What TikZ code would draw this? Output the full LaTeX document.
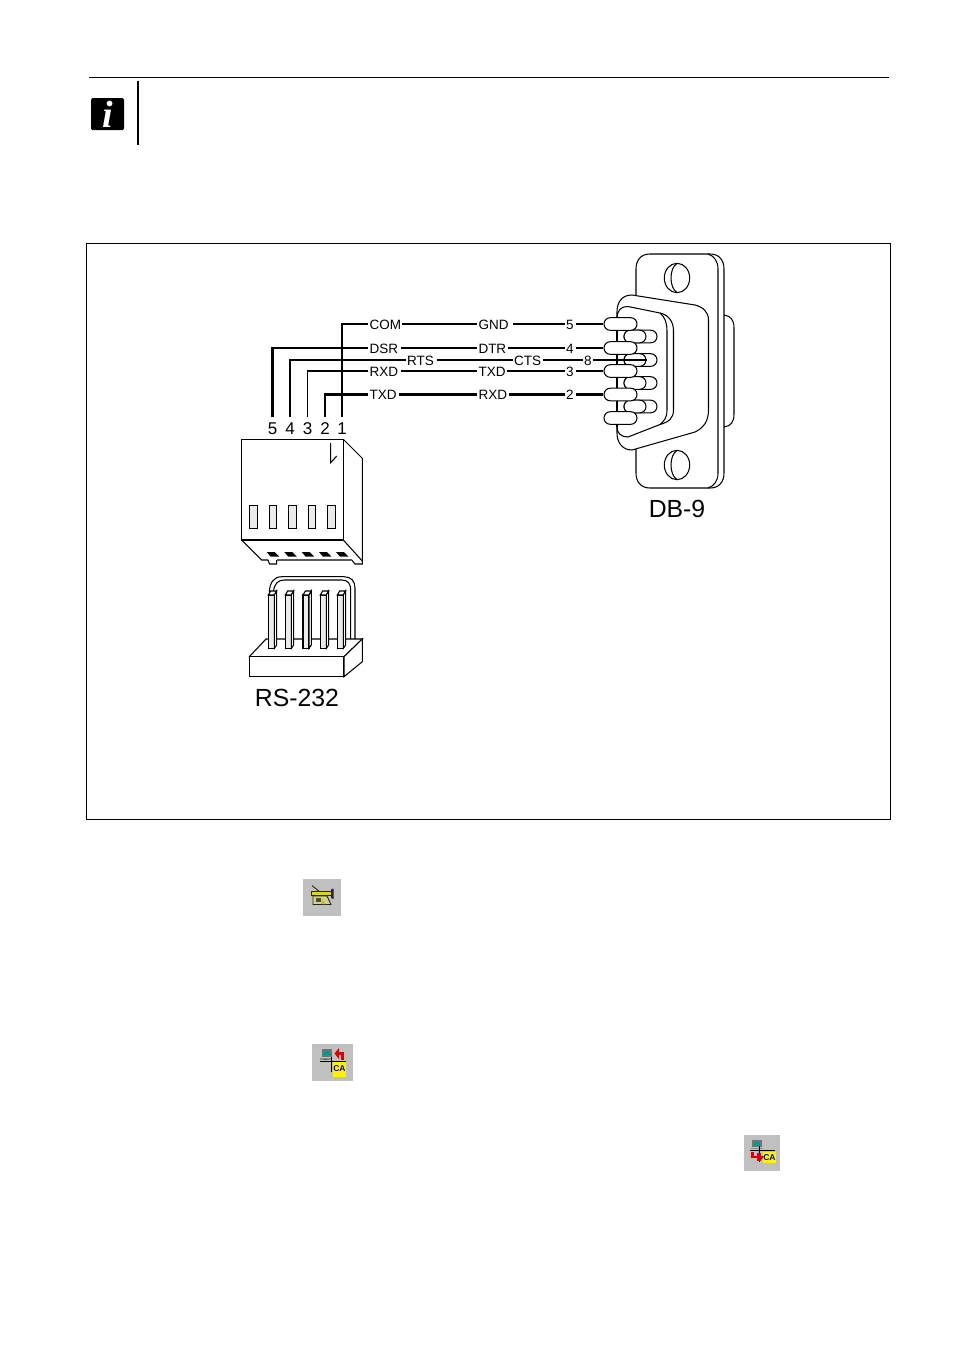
\documentclass[tikz,border=0pt]{standalone}
\usepackage{fontspec}
\setmainfont{Liberation Sans}
\newfontfamily\serifi{Liberation Serif}
\usetikzlibrary{shapes.misc}
\definecolor{icongray}{HTML}{C0C0C0}
\definecolor{pinfill}{HTML}{EBEBEB}
\tikzset{
  wire/.style={line width=1.5pt,black},
  heavywire/.style={line width=2.1pt,black},
  lab/.style={font=\fontsize{13.5}{16}\selectfont,anchor=west,inner xsep=0pt,inner ysep=0pt,outer xsep=1.5pt,text height=10.2pt,text depth=0pt},
  pinno/.style={font=\fontsize{17}{20}\selectfont,inner xsep=0pt,inner ysep=5pt,text height=12pt,text depth=0pt},
  bigname/.style={font=\fontsize{24.8}{28}\selectfont,inner sep=0pt},
  outline/.style={line width=1.05pt,black},
  pill/.style={draw=black,line width=1.05pt,fill=white,rounded rectangle,inner sep=0pt,minimum height=12.6pt},
  frontpin/.style={pill,minimum width=33pt},
  backpin/.style={pill,minimum width=33pt},
  innerpin/.style={pill,minimum width=22pt},
  slot/.style={draw=black,line width=1.05pt,fill=pinfill},
  icon/.style={fill=icongray,draw=none},
  calabel/.style={inner sep=0pt,text=blue!80!black,font=\bfseries\fontsize{8.5}{9}\selectfont},
}
\begin{document}
\begin{tikzpicture}[x=1pt,y=-1pt]
\useasboundingbox (0,0) rectangle (955,1350);
\fill[white] (0,0) rectangle (955,1350);
% page furniture
\draw[line width=1pt] (89,77.5) -- (889,77.5);
\draw[line width=2pt] (138,81) -- (138,145);
\node[fill=black,rounded corners=1.5pt,minimum width=33pt,minimum height=32pt,inner sep=0pt,text=white,font=\serifi\bfseries\itshape\fontsize{38}{38}\selectfont] (info) at (107.5,114) {i};
\draw[line width=1pt] (86.5,243.5) rectangle (890.5,819.5);
% ---------- DB-9 ----------
\begin{scope}[outline]
  % back shell
  \draw (724,315) .. controls (731,316) and (734,320) .. (734,328) -- (734,414) .. controls (734,422) and (731,426) .. (724,427);
  % flange
  \draw[fill=white] (650,254) -- (710,254) .. controls (719,254) and (724,260) .. (724,269) -- (724,473) .. controls (724,482) and (719,488) .. (710,488) -- (650,488) .. controls (641,488) and (636,482) .. (636,473) -- (636,269) .. controls (636,260) and (641,254) .. (650,254) -- cycle;
  \draw (708,254) .. controls (714,256) and (718,261) .. (718,269) -- (718,473) .. controls (718,481) and (714,486) .. (708,488);
  % screw holes
  \draw (677,278) ellipse [x radius=12.7,y radius=14.7];
  \draw (677,263.5) .. controls (669,268) and (669,288) .. (677,292.5);
  \draw (677,465) ellipse [x radius=12.7,y radius=14.7];
  \draw (677,450.5) .. controls (669,455) and (669,475) .. (677,479.5);
  % D shell
  \draw[fill=white] (617,312) .. controls (617,302) and (622,295) .. (632,295) -- (695,305) .. controls (703,307) and (708.5,312) .. (708.5,320) -- (708.5,410) .. controls (708.5,422) and (703,428) .. (695,432) -- (632,450) .. controls (622,450) and (617,442) .. (617,433) -- cycle;
  \draw (617,318) .. controls (617,311) and (621,306) .. (628,306.5) -- (660,313) .. controls (669,315) and (673.5,322) .. (673.5,331) -- (673.5,410) .. controls (673.5,418) and (669,422) .. (660,424.5) -- (628,437) .. controls (621,437) and (617,433) .. (617,427);
  \draw (660,313) .. controls (664,316) and (667,322) .. (667,331) -- (667,410) .. controls (667,418) and (664,421) .. (660,424.5);
  \draw (617,318) -- (617,427);
\end{scope}
% back row pins
\node[backpin] (b1) at (640.5,336.5) {};
\node[innerpin] (bi1) at (635,336.5) {};
\node[backpin] (b2) at (640.5,360) {};
\node[innerpin] (bi2) at (635,360) {};
\node[backpin] (b3) at (640.5,383) {};
\node[innerpin] (bi3) at (635,383) {};
\node[backpin] (b4) at (640.5,406.5) {};
\node[innerpin] (bi4) at (635,406.5) {};
% front row pins
\node[frontpin] (f1) at (620.5,324) {};
\node[frontpin] (f2) at (620.5,348) {};
\node[frontpin] (f3) at (620.5,371) {};
\node[frontpin] (f4) at (620.5,394.5) {};
\node[frontpin] (f5) at (620.5,418) {};
\node[bigname] (dbname) at (677,509) {DB-9};
% ---------- wire labels ----------
\node[lab] (com) at (368,324) {COM};
\node[lab] (dsr) at (368,348) {DSR};
\node[lab] (rts) at (405.5,360) {RTS};
\node[lab] (rxda) at (368,371) {RXD};
\node[lab] (txda) at (368,394.5) {TXD};
\node[lab] (gnd) at (477,324) {GND};
\node[lab] (dtr) at (477,348) {DTR};
\node[lab] (cts) at (512.5,360) {CTS};
\node[lab] (txdb) at (477,371) {TXD};
\node[lab] (rxdb) at (477,394.5) {RXD};
\node[lab] (n5) at (564.5,324) {5};
\node[lab] (n4) at (564.5,348) {4};
\node[lab] (n8) at (582.5,360) {8};
\node[lab] (n3) at (564.5,371) {3};
\node[lab] (n2) at (564.5,394.5) {2};
% header pin numbers
\node[pinno] (p5) at (272.5,428) {5};
\node[pinno] (p4) at (290,428) {4};
\node[pinno] (p3) at (307.5,428) {3};
\node[pinno] (p2) at (325,428) {2};
\node[pinno] (p1) at (342,428) {1};
% ---------- wires ----------
\draw[wire] (com.west) -| (p1.north);
\draw[heavywire] (dsr.west) -| (p5.north);
\draw[wire] (rts.west) -| (p4.north);
\draw[wire] (rxda.west) -| (p3.north);
\draw[heavywire] (txda.west) -| (p2.north);
\draw[wire] (com.east) -- (gnd.west);
\draw[wire,shorten <=1pt] (dsr.east) -- (dtr.west);
\draw[wire,shorten <=1.5pt] (rts.east) -- (cts.west);
\draw[wire,shorten <=1pt] (rxda.east) -- (txdb.west);
\draw[heavywire,shorten <=1pt] (txda.east) -- (rxdb.west);
\draw[wire,shorten <=3pt] (gnd.east) -- (n5.west);
\draw[wire] (dtr.east) -- (n4.west);
\draw[wire] (cts.east) -- (n8.west);
\draw[wire] (txdb.east) -- (n3.west);
\draw[heavywire] (rxdb.east) -- (n2.west);
\draw[wire,shorten <=1pt] (n5.east) -- (f1.west);
\draw[wire,shorten <=1pt] (n4.east) -- (f2.west);
\draw[wire] (n8.east) -- (bi2.east);
\draw[wire,shorten <=1pt] (n3.east) -- (f3.west);
\draw[heavywire,shorten <=1pt] (n2.east) -- (f4.west);
% ---------- RS-232 housing ----------
\begin{scope}[outline]
  \draw (241.7,439.3) rectangle (343.3,540);
  \draw (343.3,439.3) -- (362.3,458.3) -- (362.3,564) -- (355,564) -- (351.7,560);
  \draw (343.3,540) -- (362.3,561);
  \draw (241.7,540) -- (261.7,560) -- (268,560) -- (269.5,564) -- (276.7,564) -- (276.7,560);
  \draw[line width=1.6pt,black!65] (276.7,560) -- (351.7,560);
  \draw (330.7,443) -- (330.7,462.7) -- (336.7,456);
\end{scope}
\foreach \xa/\xb in {249.3/257.7,269.3/276.7,288.3/296.7,308.3/315.7,327.3/335.7}
  \draw[slot] (\xa,505.3) rectangle (\xb,528.7);
\foreach \xa in {266.7,284.3,301.7,319,336}
  \fill[black] (\xa,552) -- (\xa+8,552) -- (\xa+12.5,556.7) -- (\xa+4,556.7) -- cycle;
% ---------- RS-232 header ----------
\begin{scope}[outline]
  \draw (269.3,592) .. controls (270,582) and (274,576.7) .. (282,576.7) -- (344,576.7) .. controls (351,576.7) and (355,581) .. (355,588) -- (355,640);
  \draw (273.5,592) .. controls (274,584) and (278,580) .. (284,580) -- (342,580) .. controls (348,580) and (350.7,584) .. (350.7,590) -- (350.7,640);
  \draw[fill=white] (249.3,656.7) -- (266,639) -- (362.3,639) -- (344,656.7) -- cycle;
  \draw[fill=white] (249.3,656.7) rectangle (344,676.7);
  \draw[fill=white] (344,656.7) -- (362.3,639) -- (362.3,661.7) -- (344,676.7) -- cycle;
\end{scope}
\foreach \xa in {268.3,285.3,303,320.3,337.3} {
  \draw[slot] (\xa,595) -- (\xa+6,595) -- (\xa+6,648.3) -- (\xa,648.3) -- cycle;
  \draw[outline,fill=white] (\xa,595) -- (\xa+2.4,591) -- (\xa+8.3,591) -- (\xa+6,595) -- cycle;
  \draw[outline,fill=white] (\xa+6,595) -- (\xa+8.3,591) -- (\xa+8.3,645) -- (\xa+6,648.3) -- cycle;
}
\node[bigname] (rsname) at (297,697.5) {RS-232};
% ---------- icon 1 ----------
\fill[icon] (303,879) rectangle (341,916);
\draw[line width=0.9pt,black!85] (312,885.5) -- (320,892);
\draw[line width=0.9pt,black!85,fill=icongray!70!yellow] (313,896) -- (327,896) -- (331,904.5) -- (313,904.5) -- cycle;
\draw[line width=0.9pt,black!85,fill=yellow!85!black] (311,891.5) rectangle (331,895.5);
\fill[black!70] (316,898) rectangle (321,902);
\fill[yellow!75!black] (322,899) -- (326,904) -- (321,904) -- cycle;
\fill[black!85] (331,889.5) -- (333.5,888.5) -- (333.5,899) -- (331,898) -- cycle;
% ---------- icon 2 ----------
\fill[icon] (312,1044) rectangle (353,1081);
\fill[black!55] (321.7,1049) rectangle (332,1057);
\fill[teal!80!cyan] (324,1051) rectangle (330,1055);
\fill[black!45] (320,1058) rectangle (331,1060);
\fill[green!55!black] (324,1058.5) rectangle (327,1059.5);
\draw[line width=1pt] (320,1061) -- (346,1061);
\draw[line width=1pt] (331,1057) -- (331,1072);
\fill[yellow] (333,1062) rectangle (345.7,1076.7);
\draw[red!85!black,line width=2.6pt] (342.5,1059.5) -- (342.5,1053.5) -- (338,1053.5);
\fill[red!85!black] (339,1048) -- (339,1059) -- (334.5,1053.5) -- cycle;
\node[calabel] (ca1) at (339.4,1069) {CA};
% ---------- icon 3 ----------
\fill[icon] (744,1135) rectangle (780,1171);
\fill[black!55] (751.7,1140) rectangle (762.3,1147);
\fill[teal!80!cyan] (754,1141.5) rectangle (760,1145.5);
\fill[black!45] (751,1148) rectangle (763,1149);
\draw[line width=1pt] (750,1150) -- (775,1150);
\draw[line width=1pt] (759,1146) -- (759,1161.7);
\fill[yellow] (763.3,1152.3) rectangle (775.5,1163.3);
\draw[red!85!black,line width=2.4pt] (752.5,1152) -- (752.5,1157) -- (759,1157);
\fill[red!85!black] (757,1153) rectangle (760.5,1161);
\fill[red!85!black] (760.5,1156) -- (764,1156) -- (760.5,1161) -- cycle;
\node[calabel] (ca2) at (769.4,1157.8) {CA};
\end{tikzpicture}
\end{document}
